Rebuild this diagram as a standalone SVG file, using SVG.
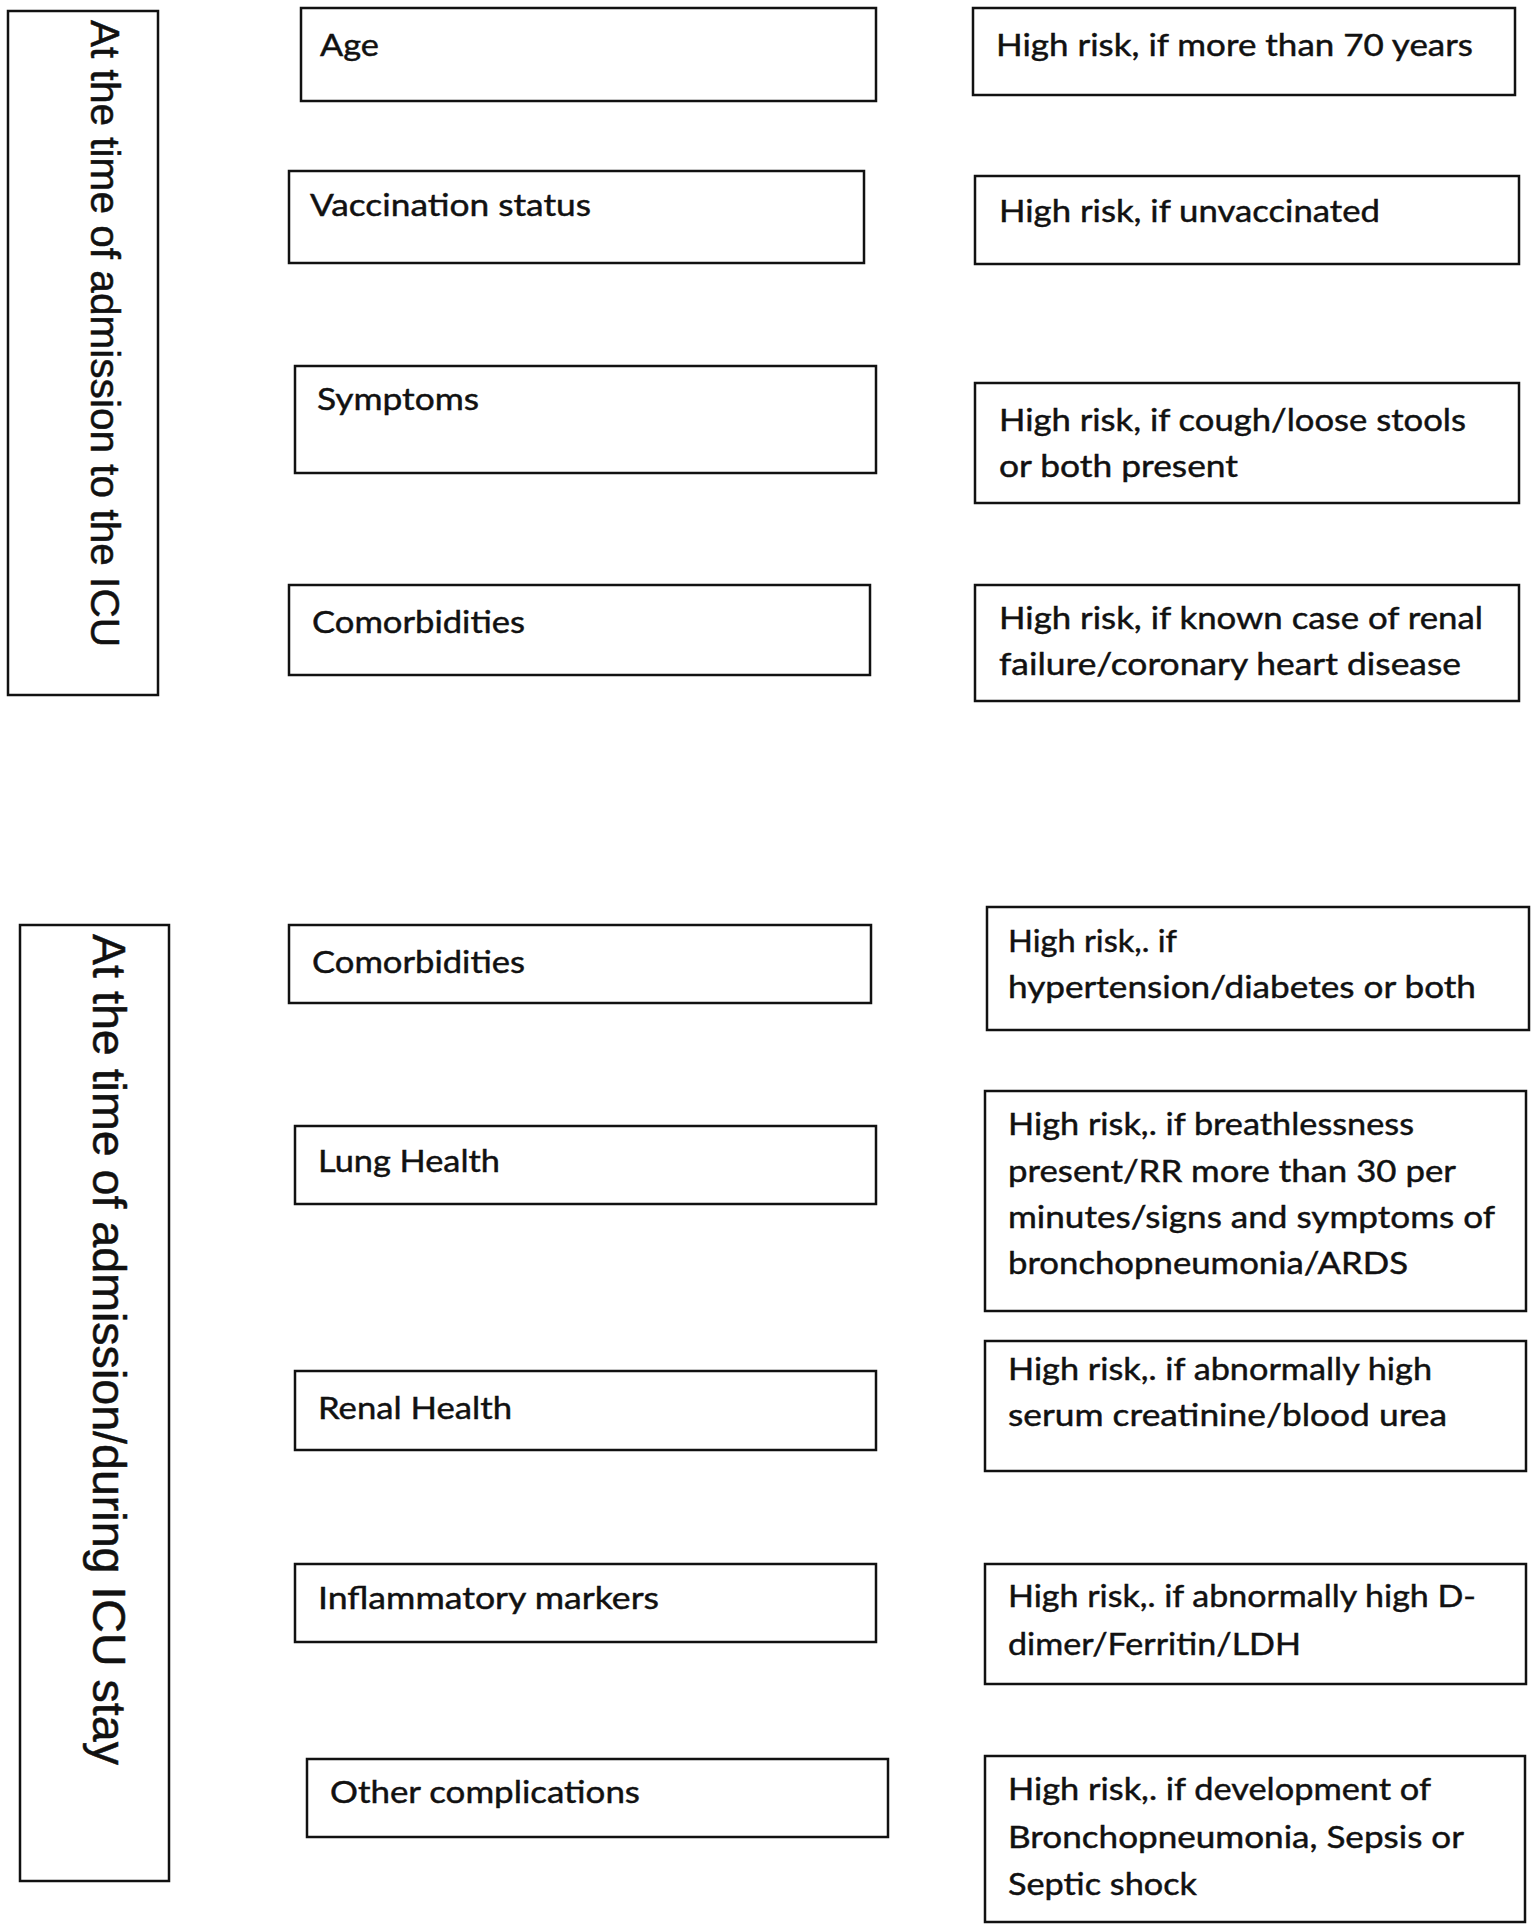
<svg xmlns="http://www.w3.org/2000/svg" width="1536" height="1932" viewBox="0 0 1536 1932">
<style>
.box{fill:#fff;stroke:#111;stroke-width:2.5}
.t{font-family:Lato,"Liberation Sans",sans-serif;font-size:31px;fill:#111;stroke:#111;stroke-width:0.45}
.v{font-family:"Liberation Sans",Arial,sans-serif;fill:#111;stroke:#111;stroke-width:0.5}
</style>
<rect x="0" y="0" width="1536" height="1932" fill="#fff"/>
<g id="connectors"/>
<g id="phase-admission">
<rect class="box" x="8" y="11" width="150" height="684"/>
<text class="v" font-size="41" x="91" y="20" transform="rotate(90 91 20)" textLength="627" lengthAdjust="spacingAndGlyphs">At the time of admission to the ICU</text>
</g>
<g id="age">
<rect class="box" x="301" y="8" width="575" height="93"/>
<text class="t" x="320" y="56" textLength="59" lengthAdjust="spacingAndGlyphs">Age</text>
</g>
<g id="age-risk">
<rect class="box" x="973" y="8" width="542" height="87"/>
<text class="t" x="996" y="56" textLength="477" lengthAdjust="spacingAndGlyphs">High risk, if more than 70 years</text>
</g>
<g id="vaccination">
<rect class="box" x="289" y="171" width="575" height="92"/>
<text class="t" x="310" y="216" textLength="281" lengthAdjust="spacingAndGlyphs">Vaccination status</text>
</g>
<g id="vaccination-risk">
<rect class="box" x="975" y="176" width="544" height="88"/>
<text class="t" x="999" y="222" textLength="381" lengthAdjust="spacingAndGlyphs">High risk, if unvaccinated</text>
</g>
<g id="symptoms">
<rect class="box" x="295" y="366" width="581" height="107"/>
<text class="t" x="317" y="410" textLength="162" lengthAdjust="spacingAndGlyphs">Symptoms</text>
</g>
<g id="symptoms-risk">
<rect class="box" x="975" y="383" width="544" height="120"/>
<text class="t" x="999" y="431" textLength="467" lengthAdjust="spacingAndGlyphs">High risk, if cough/loose stools</text>
<text class="t" x="999" y="477" textLength="239" lengthAdjust="spacingAndGlyphs">or both present</text>
</g>
<g id="comorbidities-1">
<rect class="box" x="289" y="585" width="581" height="90"/>
<text class="t" x="312" y="633" textLength="213" lengthAdjust="spacingAndGlyphs">Comorbidities</text>
</g>
<g id="comorbidities-1-risk">
<rect class="box" x="975" y="585" width="544" height="116"/>
<text class="t" x="999" y="629" textLength="484" lengthAdjust="spacingAndGlyphs">High risk, if known case of renal</text>
<text class="t" x="999" y="675" textLength="462" lengthAdjust="spacingAndGlyphs">failure/coronary heart disease</text>
</g>
<g id="phase-stay">
<rect class="box" x="20" y="925" width="149" height="956"/>
<text class="v" font-size="46.5" x="93" y="934" transform="rotate(90 93 934)" textLength="831" lengthAdjust="spacingAndGlyphs">At the time of admission/during ICU stay</text>
</g>
<g id="comorbidities-2">
<rect class="box" x="289" y="925" width="582" height="78"/>
<text class="t" x="312" y="973" textLength="213" lengthAdjust="spacingAndGlyphs">Comorbidities</text>
</g>
<g id="comorbidities-2-risk">
<rect class="box" x="987" y="907" width="542" height="123"/>
<text class="t" x="1008" y="952" textLength="169" lengthAdjust="spacingAndGlyphs">High risk,. if</text>
<text class="t" x="1008" y="998" textLength="468" lengthAdjust="spacingAndGlyphs">hypertension/diabetes or both</text>
</g>
<g id="lung">
<rect class="box" x="295" y="1126" width="581" height="78"/>
<text class="t" x="318" y="1172" textLength="182" lengthAdjust="spacingAndGlyphs">Lung Health</text>
</g>
<g id="lung-risk">
<rect class="box" x="985" y="1091" width="541" height="220"/>
<text class="t" x="1008" y="1135" textLength="406" lengthAdjust="spacingAndGlyphs">High risk,. if breathlessness</text>
<text class="t" x="1008" y="1182" textLength="448" lengthAdjust="spacingAndGlyphs">present/RR more than 30 per</text>
<text class="t" x="1008" y="1228" textLength="487" lengthAdjust="spacingAndGlyphs">minutes/signs and symptoms of</text>
<text class="t" x="1008" y="1274" textLength="400" lengthAdjust="spacingAndGlyphs">bronchopneumonia/ARDS</text>
</g>
<g id="renal">
<rect class="box" x="295" y="1371" width="581" height="79"/>
<text class="t" x="318" y="1419" textLength="194" lengthAdjust="spacingAndGlyphs">Renal Health</text>
</g>
<g id="renal-risk">
<rect class="box" x="985" y="1341" width="541" height="130"/>
<text class="t" x="1008" y="1380" textLength="424" lengthAdjust="spacingAndGlyphs">High risk,. if abnormally high</text>
<text class="t" x="1008" y="1426" textLength="439" lengthAdjust="spacingAndGlyphs">serum creatinine/blood urea</text>
</g>
<g id="inflammatory">
<rect class="box" x="295" y="1564" width="581" height="78"/>
<text class="t" x="318" y="1609" textLength="341" lengthAdjust="spacingAndGlyphs">Inflammatory markers</text>
</g>
<g id="inflammatory-risk">
<rect class="box" x="985" y="1564" width="541" height="120"/>
<text class="t" x="1008" y="1607" textLength="468" lengthAdjust="spacingAndGlyphs">High risk,. if abnormally high D-</text>
<text class="t" x="1008" y="1655" textLength="293" lengthAdjust="spacingAndGlyphs">dimer/Ferritin/LDH</text>
</g>
<g id="other">
<rect class="box" x="307" y="1759" width="581" height="78"/>
<text class="t" x="330" y="1803" textLength="310" lengthAdjust="spacingAndGlyphs">Other complications</text>
</g>
<g id="other-risk">
<rect class="box" x="985" y="1756" width="540" height="166"/>
<text class="t" x="1008" y="1800" textLength="423" lengthAdjust="spacingAndGlyphs">High risk,. if development of</text>
<text class="t" x="1008" y="1848" textLength="456" lengthAdjust="spacingAndGlyphs">Bronchopneumonia, Sepsis or</text>
<text class="t" x="1008" y="1895" textLength="189" lengthAdjust="spacingAndGlyphs">Septic shock</text>
</g>
</svg>
